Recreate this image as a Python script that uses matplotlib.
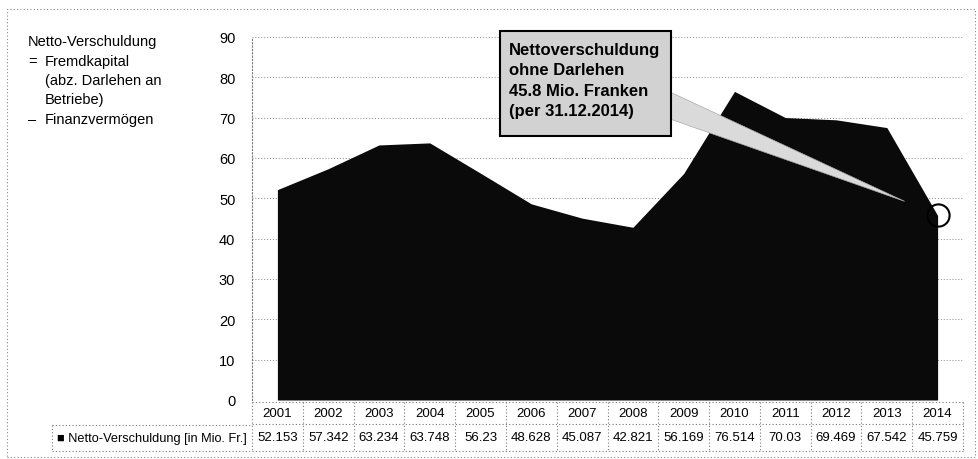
import numpy as np
import matplotlib.pyplot as plt
from matplotlib.patches import Rectangle, Polygon

years = ['2001', '2002', '2003', '2004', '2005', '2006', '2007',
         '2008', '2009', '2010', '2011', '2012', '2013', '2014']
netto = [52.153, 57.342, 63.234, 63.748, 56.23, 48.628, 45.087,
         42.821, 56.169, 76.514, 70.03, 69.469, 67.542, 45.759]
value_labels = ['52.153', '57.342', '63.234', '63.748', '56.23', '48.628', '45.087',
                '42.821', '56.169', '76.514', '70.03', '69.469', '67.542', '45.759']
yticks = [0, 10, 20, 30, 40, 50, 60, 70, 80, 90]

legend_label = '\u25a0 Netto-Verschuldung [in Mio. Fr.]'
note_lines = ['Netto-Verschuldung', '=', 'Fremdkapital', '(abz. Darlehen an',
              'Betriebe)', '\u2013', 'Finanzverm\u00f6gen']
callout = 'Nettoverschuldung\nohne Darlehen\n45.8 Mio. Franken\n(per 31.12.2014)'

plt.rcParams['font.family'] = ['Liberation Sans', 'DejaVu Sans']

W, H = 979, 460
fig = plt.figure(figsize=(W / 100, H / 100), dpi=100)


def fx(px):
    return px / W


def fy(py):
    return 1 - py / H


ax = fig.add_axes([fx(252), fy(401), fx(963) - fx(252), fy(38) - fy(401)])
x = np.arange(len(years))
ax.set_xlim(-0.5, len(years) - 0.5)
ax.set_ylim(0, 90)

ax.fill_between(x, 0, netto, color='#0a0a0a', lw=0, zorder=2)

ax.set_yticks(yticks)
ax.set_yticklabels([str(t) for t in yticks], fontsize=10.5)
ax.tick_params(axis='y', length=0, pad=12)
ax.set_xticks([])
for t in yticks[1:]:
    ax.axhline(t, color='#888888', lw=0.7, ls=(0, (1, 2)), zorder=1)
for s in ['top', 'right', 'bottom']:
    ax.spines[s].set_visible(False)
ax.spines['left'].set_linestyle((0, (1, 2)))
ax.spines['left'].set_color('#777777')
ax.spines['left'].set_linewidth(0.8)

# data table under the area
tr = ax.get_xaxis_transform()
grid_kw = dict(color='#777777', lw=0.8, ls=(0, (1, 2)), clip_on=False, transform=tr)
h = 363.0
r_top, r_mid, r_bot = -2 / h, -24 / h, -51 / h
ax.plot([-0.5, len(years) - 0.5], [r_top, r_top], **grid_kw)
ax.plot([-0.5, len(years) - 0.5], [r_mid, r_mid], **grid_kw)
ax.plot([-0.5, len(years) - 0.5], [r_bot, r_bot], **grid_kw)
for i in range(len(years) + 1):
    ax.plot([i - 0.5, i - 0.5], [r_top, r_bot], **grid_kw)
for i, (yr, lab) in enumerate(zip(years, value_labels)):
    ax.text(i, (r_top + r_mid) / 2, yr, transform=tr, ha='center', va='center',
            fontsize=9.5, clip_on=False)
    ax.text(i, (r_mid + r_bot) / 2, lab, transform=tr, ha='center', va='center',
            fontsize=9.5, clip_on=False)

# legend cell left of the table
lk = dict(color='#777777', lw=0.8, ls=(0, (1, 2)), transform=fig.transFigure)
fig.add_artist(plt.Line2D([fx(52), fx(252)], [fy(426), fy(426)], **lk))
fig.add_artist(plt.Line2D([fx(52), fx(252)], [fy(452), fy(452)], **lk))
fig.add_artist(plt.Line2D([fx(52), fx(52)], [fy(426), fy(452)], **lk))
fig.text(fx(57), fy(439), legend_label, ha='left', va='center', fontsize=9.2)

# outer frame
fig.add_artist(Rectangle((fx(7), fy(458)), fx(968), fy(10) - fy(458), fill=False,
                         ec='#888888', lw=0.8, ls=(0, (1, 2)),
                         transform=fig.transFigure))

# note at the top left
fs = 10.5
fig.text(fx(28), fy(42), note_lines[0], ha='left', va='center', fontsize=fs)
fig.text(fx(28), fy(62), note_lines[1], ha='left', va='center', fontsize=fs)
fig.text(fx(45), fy(62), note_lines[2], ha='left', va='center', fontsize=fs)
fig.text(fx(45), fy(81), note_lines[3], ha='left', va='center', fontsize=fs)
fig.text(fx(45), fy(100), note_lines[4], ha='left', va='center', fontsize=fs)
fig.text(fx(28), fy(120), note_lines[5], ha='left', va='center', fontsize=fs)
fig.text(fx(45), fy(120), note_lines[6], ha='left', va='center', fontsize=fs)

# callout pointing to the last value
last = len(years) - 1
ax.plot(last, netto[last], 'o', ms=16, mfc='none', mec='black', mew=1.5,
        clip_on=False, zorder=5)
tip = ax.transData.transform((last - 0.65, netto[last] + 3.5))
tip = fig.transFigure.inverted().transform(tip)
wedge = Polygon([(fx(670), fy(93)), (fx(670), fy(120)), tuple(tip)], closed=True,
                fc='#dadada', ec='#aaaaaa', lw=0.5, transform=fig.transFigure,
                zorder=4)
fig.add_artist(wedge)
fig.add_artist(Rectangle((fx(500), fy(137)), fx(171), fy(32) - fy(137),
                         fc='#d2d2d2', ec='black', lw=1.5,
                         transform=fig.transFigure, zorder=5))
fig.text(fx(509), fy(43), callout, ha='left', va='top', fontsize=12,
         fontweight='bold', linespacing=1.45, zorder=6)

fig.savefig('out.png', dpi=100)
